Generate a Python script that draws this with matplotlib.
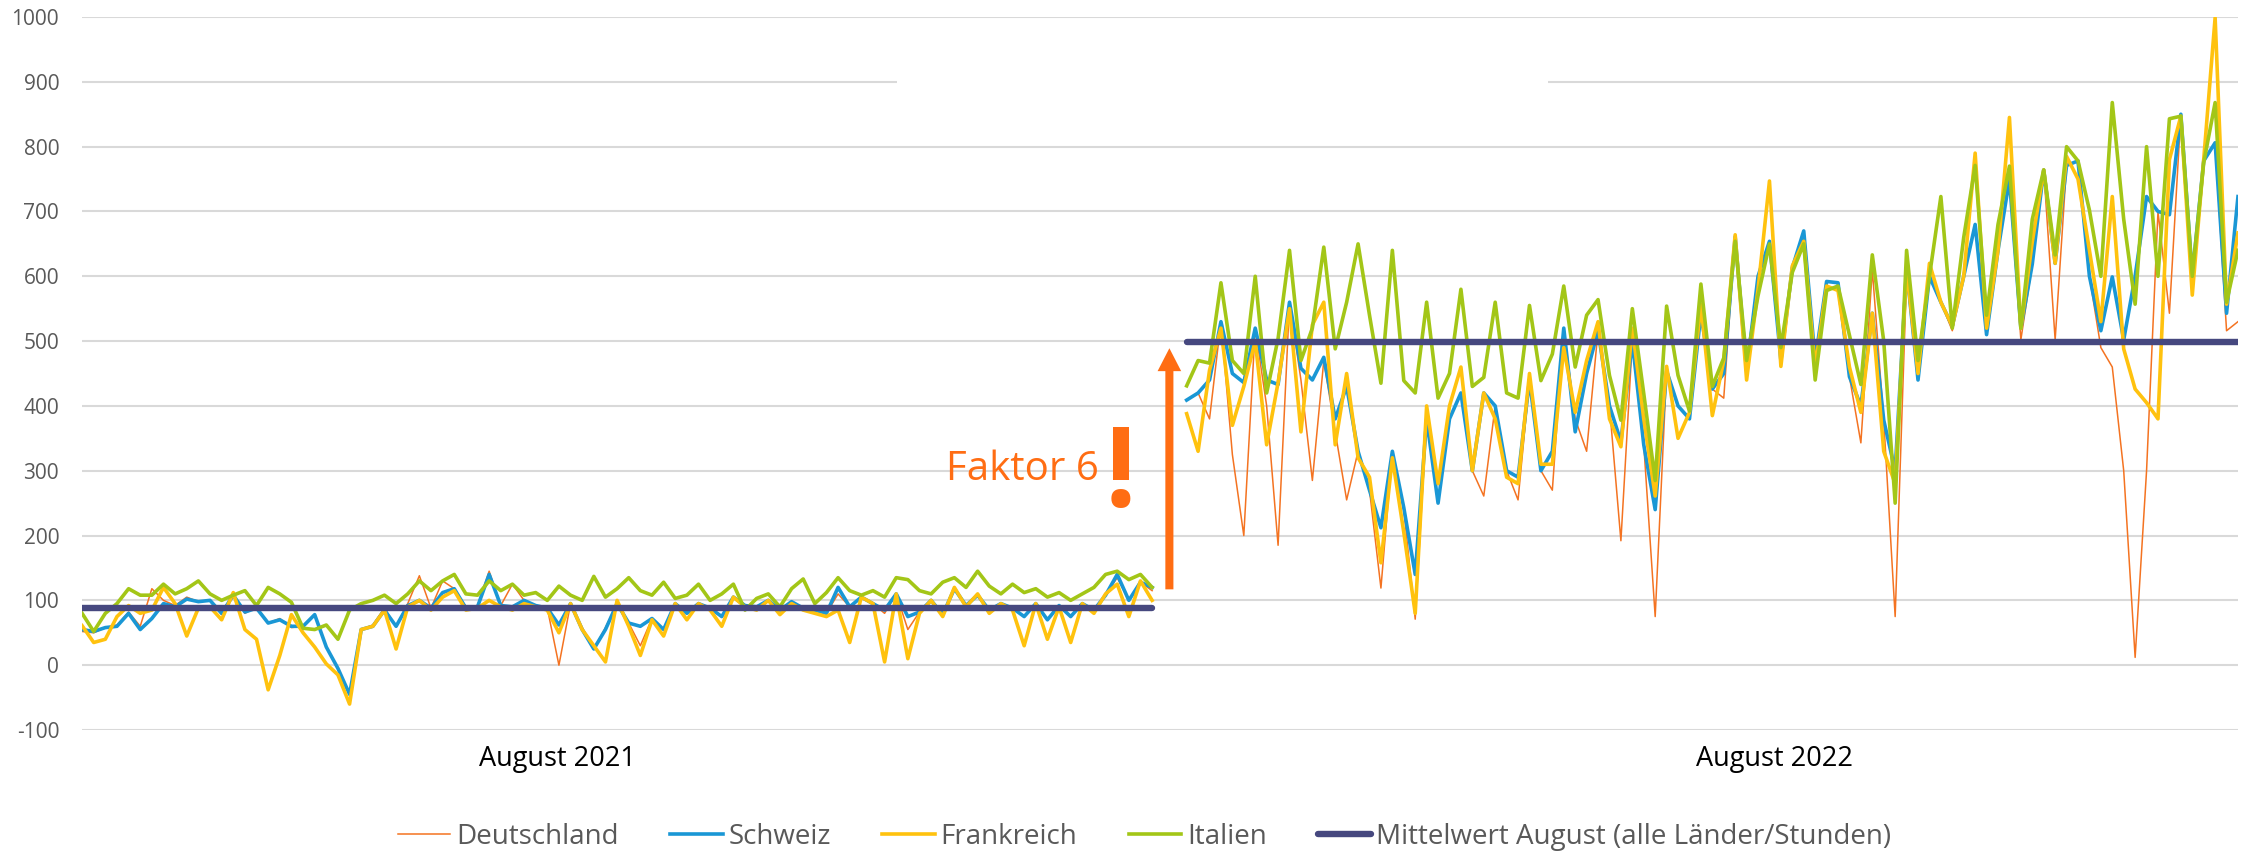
import numpy as np
import matplotlib
matplotlib.use("Agg")
from matplotlib import pyplot as plt
from matplotlib.patches import Rectangle

plt.rcParams.update({
    "font.family": ["Open Sans", "DejaVu Sans"],
    "axes.unicode_minus": False,
})

de_2021 = [52, 50, 58, 62, 82, 60, 118, 100, 92, 105, 98, 100, 78, 110, 80, 90, 65, 72, 58, 60,
           78, 28, -5, -45, 55, 62, 88, 60, 95, 138, 88, 130, 118, 90, 92, 145, 92, 125, 100, 92,
           88, 0, 95, 58, 25, 58, 95, 65, 30, 72, 55, 95, 80, 95, 88, 75, 105, 92, 90, 100,
           85, 98, 88, 85, 80, 110, 90, 105, 95, 80, 110, 55, 82, 100, 78, 118, 92, 108, 85, 95,
           88, 75, 95, 70, 92, 75, 95, 85, 108, 135, 100, 128, 115]
ch_2021 = [55, 52, 58, 60, 80, 55, 72, 95, 90, 102, 98, 100, 80, 108, 82, 88, 65, 70, 60, 60,
           78, 28, -5, -45, 55, 60, 85, 60, 92, 100, 88, 112, 118, 88, 90, 140, 92, 90, 100, 92,
           88, 62, 95, 55, 25, 55, 95, 65, 60, 72, 55, 95, 80, 95, 88, 75, 105, 92, 90, 100,
           85, 98, 88, 85, 80, 120, 90, 105, 95, 85, 110, 75, 82, 100, 78, 118, 92, 108, 85, 95,
           88, 75, 95, 70, 92, 75, 95, 85, 108, 140, 100, 128, 120]
fr_2021 = [61, 35, 40, 75, 92, 80, 85, 120, 95, 45, 88, 90, 70, 112, 55, 40, -38, 15, 78, 50,
           28, 2, -15, -60, 55, 60, 85, 25, 90, 100, 85, 105, 115, 85, 88, 100, 90, 85, 95, 90,
           85, 50, 95, 55, 30, 5, 100, 60, 15, 70, 45, 95, 70, 95, 85, 60, 105, 90, 85, 100,
           78, 95, 85, 80, 75, 85, 35, 105, 95, 5, 110, 10, 80, 100, 75, 120, 90, 110, 80, 95,
           85, 30, 95, 40, 90, 35, 95, 80, 110, 125, 75, 130, 100]
it_2021 = [80, 52, 80, 95, 118, 108, 108, 125, 110, 118, 130, 110, 100, 108, 115, 92, 120, 110, 97, 57,
           55, 62, 40, 85, 95, 100, 108, 95, 110, 130, 115, 130, 140, 110, 108, 130, 115, 125, 108, 112,
           100, 122, 108, 100, 137, 105, 118, 135, 115, 108, 128, 103, 108, 125, 100, 110, 125, 85, 103, 110,
           90, 118, 133, 95, 112, 135, 115, 108, 115, 105, 135, 132, 115, 110, 128, 135, 120, 145, 122, 110,
           125, 112, 118, 105, 112, 100, 110, 120, 140, 145, 132, 140, 120]

de_2022 = [409, 420, 380, 530, 325, 200, 520, 400, 185, 560, 440, 285, 470, 360, 255, 330, 270, 119, 330, 240,
           71, 380, 250, 380, 420, 300, 261, 400, 300, 255, 440, 300, 270, 520, 380, 330, 516, 400, 192, 500,
           340, 75, 454, 400, 380, 543, 426, 412, 661, 454, 600, 654, 470, 613, 670, 470, 592, 590, 445, 343,
           610, 378, 75, 600, 440, 600, 560, 516, 600, 680, 510, 640, 750, 502, 619, 764, 502, 771, 778, 600,
           490, 460, 300, 12, 300, 700, 543, 850, 571, 778, 806, 516, 530]
ch_2022 = [409, 420, 440, 530, 450, 436, 520, 440, 433, 560, 458, 440, 475, 380, 430, 330, 270, 212, 330, 243,
           140, 380, 250, 380, 420, 300, 420, 400, 300, 290, 440, 300, 330, 520, 360, 450, 516, 400, 345, 500,
           340, 240, 454, 400, 380, 543, 426, 450, 661, 454, 600, 654, 470, 613, 670, 470, 592, 590, 445, 400,
           543, 378, 300, 612, 440, 600, 560, 523, 600, 680, 510, 640, 750, 520, 619, 764, 620, 771, 778, 600,
           516, 599, 502, 600, 723, 700, 695, 850, 600, 778, 806, 543, 723]
fr_2022 = [388, 330, 455, 520, 370, 430, 500, 340, 436, 550, 360, 525, 560, 340, 450, 320, 290, 158, 320, 205,
           80, 400, 280, 400, 460, 300, 420, 380, 290, 280, 450, 310, 310, 490, 390, 470, 530, 380, 337, 520,
           380, 261, 461, 350, 390, 557, 385, 470, 664, 440, 580, 747, 461, 616, 654, 460, 585, 578, 460, 390,
           543, 330, 280, 612, 450, 620, 560, 523, 600, 790, 520, 640, 845, 520, 653, 764, 620, 785, 750, 640,
           530, 723, 488, 426, 405, 380, 780, 847, 571, 780, 999, 557, 667]
it_2022 = [431, 470, 466, 590, 470, 450, 600, 420, 504, 640, 470, 520, 645, 488, 560, 650, 540, 435, 640, 439,
           420, 560, 412, 450, 580, 430, 444, 560, 420, 412, 555, 439, 480, 585, 460, 540, 564, 447, 378, 550,
           419, 285, 554, 447, 392, 588, 430, 474, 654, 470, 570, 650, 490, 606, 650, 440, 578, 585, 509, 433,
           633, 500, 250, 640, 470, 600, 723, 520, 660, 771, 540, 680, 770, 520, 688, 764, 633, 800, 778, 702,
           600, 868, 688, 557, 800, 600, 843, 847, 600, 775, 868, 560, 640]

laender = ["Deutschland", "Schweiz", "Frankreich", "Italien"]
werte_2021 = [de_2021, ch_2021, fr_2021, it_2021]
werte_2022 = [de_2022, ch_2022, fr_2022, it_2022]
mittel = [88, 499]
monate = ["August 2021", "August 2022"]

farben = ["#F47321", "#1A97D5", "#FFC20E", "#A3C617"]
breiten = [1.1, 2.6, 2.6, 2.6]
ORANGE = "#FF6D13"
NAVY = "#46487F"

fig = plt.figure(figsize=(22.67, 8.55), dpi=100)
ax = fig.add_axes([0.0362, 0.1462, 0.9510, 0.8339])

# Stundenachse: August 2021, kleine Luecke, August 2022
t21 = np.linspace(0, 743, len(de_2021))
t22 = np.linspace(767, 1497, len(de_2022))

for name, w21, w22, c, lw in zip(laender, werte_2021, werte_2022, farben, breiten):
    ax.plot(t21, w21, color=c, lw=lw, label=name)
    ax.plot(t22, w22, color=c, lw=lw)

lbl = "Mittelwert August (alle Länder/Stunden)"
ax.plot([t21[0], t21[-1]], [mittel[0]] * 2, color=NAVY, lw=4.6,
        solid_capstyle="round", zorder=5, label=lbl)
ax.plot([t22[0], t22[-1]], [mittel[1]] * 2, color=NAVY, lw=4.6,
        solid_capstyle="round", zorder=5)

ax.set_xlim(0, 1497)
ax.set_ylim(-100, 1000)
ax.set_yticks(range(-100, 1001, 100))
ax.yaxis.grid(True, color="#D9D9D9", lw=1.5)
ax.set_axisbelow(True)
# Titelbereich war ausgeblendet -> Gitterlinie 900 dort unterbrochen
ax.add_patch(Rectangle((566, 875), 452, 50, facecolor="white", edgecolor="none", zorder=1))

for s in ax.spines.values():
    s.set_visible(False)
ax.tick_params(axis="y", length=0, pad=16.5, labelsize=15, labelcolor="#595959")
ax.set_xticks([330, 1175])
ax.set_xticklabels(monate)
ax.tick_params(axis="x", length=0, pad=10.5, labelsize=19.5, labelcolor="black")

# Pfeil + Beschriftung
ax.annotate("", xy=(755, 489), xytext=(755, 117),
            arrowprops=dict(arrowstyle="simple,head_length=16.5,head_width=17,tail_width=5.8",
                            mutation_scale=1, color=ORANGE, lw=0, shrinkA=0, shrinkB=0))
ax.text(600, 286, "Faktor 6", color=ORANGE, fontsize=29, ha="left", va="baseline")
ax.text(721, 244, "!", color=ORANGE, fontsize=80, fontweight="bold", ha="center", va="baseline")

h, l = ax.get_legend_handles_labels()
fig.legend(h, l, loc="center", bbox_to_anchor=(0.5049, 0.021), ncol=5, frameon=False,
           fontsize=20, handlelength=1.9, handletextpad=0.2, columnspacing=1.85,
           labelcolor="#595959", borderpad=0, borderaxespad=0)

fig.savefig("out.png", dpi=100)
